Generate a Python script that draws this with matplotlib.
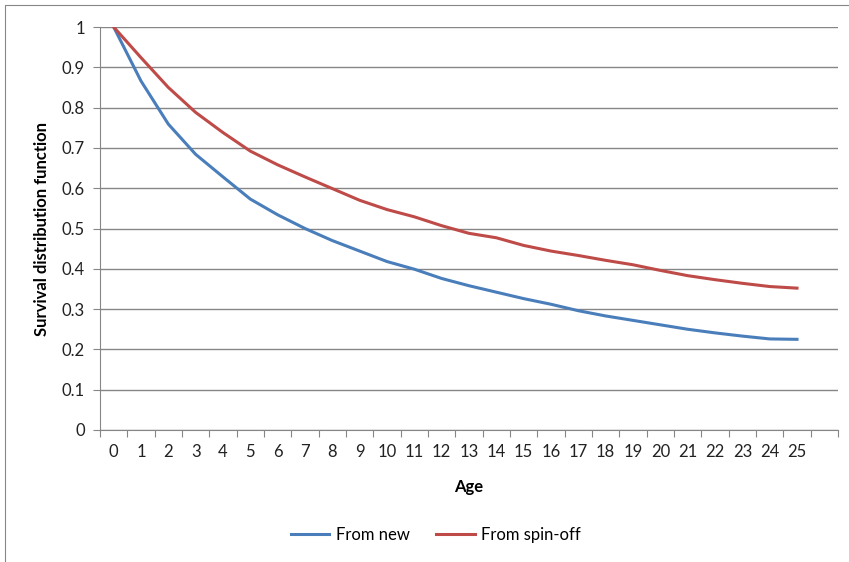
import numpy as np
import matplotlib.pyplot as plt
from matplotlib.patches import Rectangle

# Datos
edad = list(range(0, 26))
from_new = [1.0, 0.866, 0.759, 0.684, 0.628, 0.573, 0.534, 0.500, 0.470, 0.444,
            0.418, 0.399, 0.376, 0.358, 0.342, 0.326, 0.312, 0.296, 0.283, 0.272,
            0.261, 0.250, 0.241, 0.233, 0.226, 0.225]
from_spin = [1.0, 0.924, 0.850, 0.788, 0.738, 0.692, 0.658, 0.628, 0.599, 0.570,
             0.547, 0.529, 0.507, 0.488, 0.477, 0.458, 0.444, 0.433, 0.421, 0.410,
             0.396, 0.383, 0.373, 0.364, 0.356, 0.352]
etiquetas_y = ['0', '0.1', '0.2', '0.3', '0.4', '0.5', '0.6', '0.7', '0.8', '0.9', '1']

plt.rcParams['font.family'] = ['Lato', 'DejaVu Sans']
gris = '#868686'
fs = 12

fig = plt.figure(figsize=(8.49, 5.62), dpi=100)
ax = fig.add_axes([100/849, 1 - 430/562, 738/849, 403/562])

ax.plot(edad, from_new, color='#4A7EBB', lw=2.2, label='From new')
ax.plot(edad, from_spin, color='#BE4B48', lw=2.2, label='From spin-off')

# ejes
ax.set_ylim(0, 1)
ax.set_xlim(-0.5, 26.5)
ax.set_yticks(np.arange(0, 1.01, 0.1))
ax.set_yticklabels(etiquetas_y, fontsize=fs, color='#222222')
ax.tick_params(axis='y', length=5, color=gris, pad=6)

# marcas en los limites de categoria, etiquetas en el centro
ax.set_xticks(np.arange(-0.5, 27, 1))
ax.set_xticklabels([])
ax.tick_params(axis='x', which='major', length=5, color=gris)
ax.set_xticks(edad, minor=True)
ax.set_xticklabels([str(e) for e in edad], minor=True, fontsize=fs, color='#222222')
ax.tick_params(axis='x', which='minor', length=0, pad=10)

ax.grid(axis='y', color=gris, lw=1)
ax.set_axisbelow(True)
for s in ['top', 'right']:
    ax.spines[s].set_visible(False)
ax.spines['left'].set_color(gris)
ax.spines['bottom'].set_color(gris)

ax.set_xlabel('Age', fontsize=fs, fontweight='bold', labelpad=14)
ax.set_ylabel('Survival distribution function', fontsize=fs, fontweight='bold', labelpad=8)

fig.legend(loc='center', bbox_to_anchor=(436/849, 1 - 535/562), ncol=2, frameon=False,
           fontsize=fs, handlelength=2.3, columnspacing=1.6, handletextpad=0.4)

# borde del grafico (solo se ven arriba y a la izquierda)
fig.patches.append(Rectangle((5/849, -10/562), 850/849, 567/562, transform=fig.transFigure,
                             fill=False, edgecolor=gris, lw=0.8))

fig.savefig('out.png', dpi=100)
